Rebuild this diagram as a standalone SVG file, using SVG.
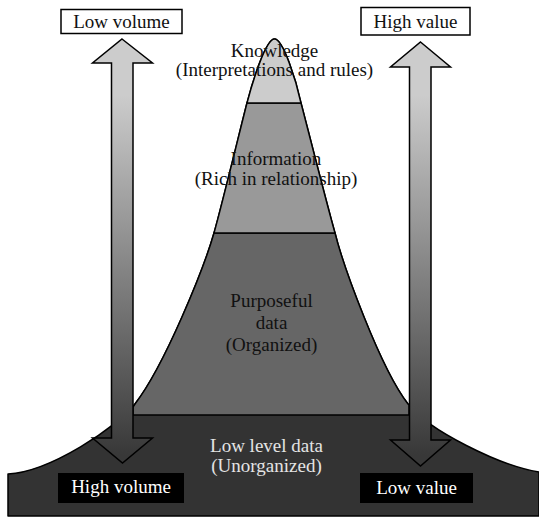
<svg xmlns="http://www.w3.org/2000/svg" width="539" height="517" viewBox="0 0 539 517">
  <style>
    .layer { stroke: #000; stroke-width: 1.5; stroke-linejoin: round; }
    .t { font-family: "Liberation Serif", "Times New Roman", serif; font-size: 19px; text-anchor: middle; }
    .dark { fill: #111; }
    .light { fill: #e4e4e4; }
    .white { fill: #fff; }
    .arrow { fill: url(#arrowGrad); stroke: #000; stroke-width: 1.5; stroke-linejoin: miter; }
    .box { fill: #fff; stroke: #000; stroke-width: 1.5; }
    .bbox { fill: #000; }
  </style>
  <defs>
    <linearGradient id="arrowGrad" gradientUnits="userSpaceOnUse" x1="0" y1="95" x2="0" y2="455">
      <stop offset="0" stop-color="#cccccc"/>
      <stop offset="1" stop-color="#383838"/>
    </linearGradient>
  </defs>
  <rect width="539" height="517" fill="#fff"/>

  <g id="layer-lowlevel">
    <path class="layer" fill="#333333" d="M8,516 L8,474 C50,472 117,427 135,404 C165,365 204,268 214,233 C222,205 242.5,120 247,103 C253,80 266,39 274.5,39 C283,39 296,80 301,103 C305.5,120 327,205 335,233 C343,265 380,368 408,404 C428,430 500,466 539,472 L539,516 Z"/>
  </g>
  <g id="layer-purposeful">
    <path class="layer" fill="#666666" d="M214,233 C204,268 165,365 135,404 L133,407 L133,415 L409,415 L409,405 L408,404 C380,368 343,265 335,233 Z"/>
  </g>
  <g id="layer-information">
    <path class="layer" fill="#999999" d="M247,103 C242.5,120 222,205 214,233 L335,233 C327,205 305.5,120 301,103 Z"/>
  </g>
  <g id="layer-knowledge">
    <path class="layer" fill="#cccccc" d="M274.5,39 C266,39 253,80 247,103 L301,103 C296,80 283,39 274.5,39 Z"/>
  </g>

  <g id="connectors">
    <path id="arrow-left" class="arrow" d="M122,39 L152.5,63 L133,63 L133,438 L152.5,438 L122.5,463 L92.5,438 L111.5,438 L111.5,63 L92.5,63 Z"/>
    <path id="arrow-right" class="arrow" d="M420.5,42 L450.5,67 L431,67 L431,440 L450.5,440 L420.5,466 L390.5,440 L409.5,440 L409.5,67 L390.5,67 Z"/>
  </g>

  <g id="label-low-volume">
    <rect class="box" x="61" y="9.5" width="121" height="24"/>
    <text class="t dark" x="121.5" y="28">Low volume</text>
  </g>
  <g id="label-high-value">
    <rect class="box" x="361" y="7.5" width="109" height="27.5"/>
    <text class="t dark" x="415.5" y="28">High value</text>
  </g>
  <g id="label-high-volume">
    <rect class="bbox" x="58" y="473" width="126" height="30"/>
    <text class="t white" x="121" y="493">High volume</text>
  </g>
  <g id="label-low-value">
    <rect class="bbox" x="360" y="473" width="113" height="30"/>
    <text class="t white" x="416.5" y="494">Low value</text>
  </g>

  <g id="text-knowledge">
    <text class="t dark" x="274.5" y="57">Knowledge</text>
    <text class="t dark" x="274.5" y="76">(Interpretations and rules)</text>
  </g>
  <g id="text-information">
    <text class="t dark" x="276" y="165">Information</text>
    <text class="t dark" x="276" y="185">(Rich in relationship)</text>
  </g>
  <g id="text-purposeful">
    <text class="t dark" x="271.5" y="307">Purposeful</text>
    <text class="t dark" x="271.5" y="329">data</text>
    <text class="t dark" x="271.5" y="351">(Organized)</text>
  </g>
  <g id="text-lowlevel">
    <text class="t light" x="266.5" y="452">Low level data</text>
    <text class="t light" x="266.5" y="472">(Unorganized)</text>
  </g>
</svg>
